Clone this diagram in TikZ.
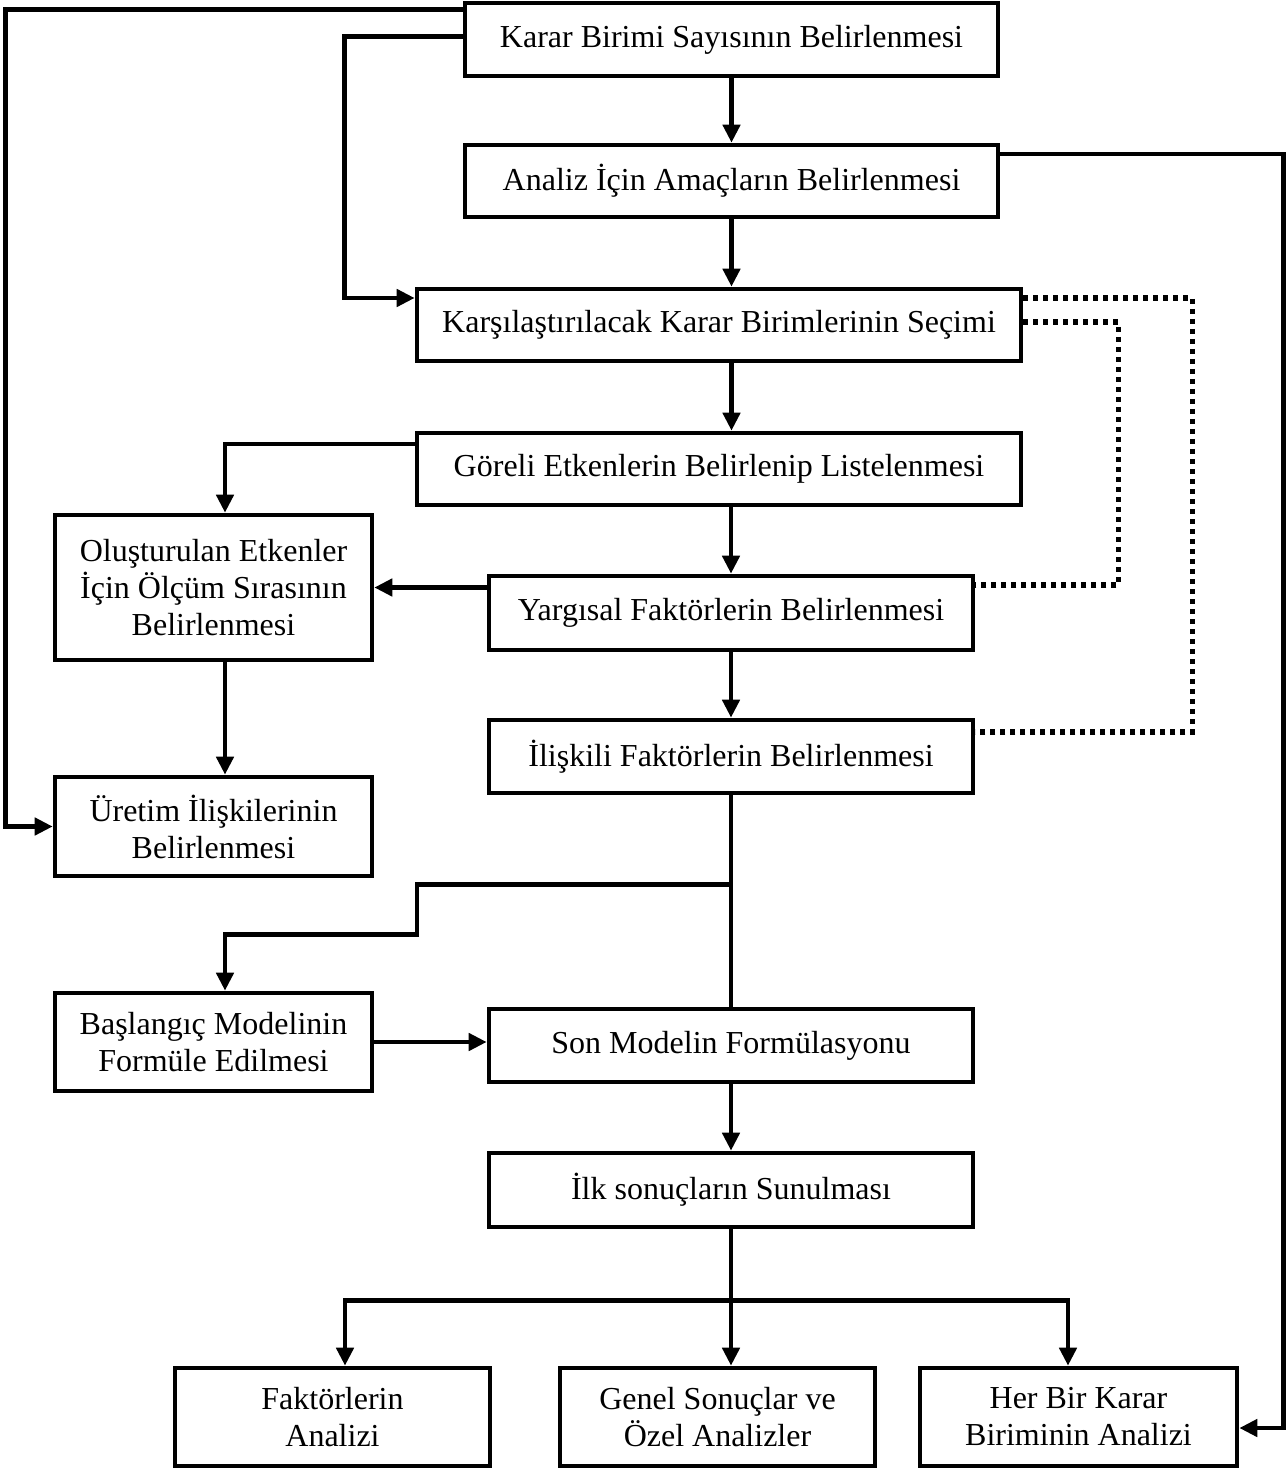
\documentclass[tikz,border=0pt]{standalone}
\usepackage{fontspec}
\setmainfont{Liberation Serif}
\usetikzlibrary{%
		arrows.meta%
	}

\begin{document}
\begin{tikzpicture}[x=0.5pt,y=-0.5pt,
		kutu/.style={draw,line width=2.3pt,align=center,inner sep=0pt,
			font=\fontsize{16}{18.5}\selectfont},
		ok/.style={line width=2.3pt,-{Triangle[length=9pt,width=8.5pt]}},
		cizgi/.style={line width=2.3pt},
		nokta/.style={line width=2.6pt,dash pattern=on 2.5pt off 2.5pt}]
			\useasboundingbox (0,0) rectangle (1285,1470);
			\node[kutu,minimum width=266.5pt,minimum height=36.5pt] (karar) at (731.5,39.5) {Karar Birimi Sayısının Belirlenmesi};
			\node[kutu,minimum width=266.5pt,minimum height=36pt] (amac) at (731.5,181) {Analiz İçin Amaçların Belirlenmesi};
			\node[kutu,minimum width=302pt,minimum height=36pt] (secim) at (719,325) {Karşılaştırılacak Karar Birimlerinin Seçimi};
			\node[kutu,minimum width=302pt,minimum height=36pt] (goreli) at (719,469) {Göreli Etkenlerin Belirlenip Listelenmesi};
			\node[kutu,minimum width=158.5pt,minimum height=72.5pt] (olcum) at (213.5,587.5) {Oluşturulan Etkenler\\İçin Ölçüm Sırasının\\Belirlenmesi};
			\node[kutu,minimum width=242pt,minimum height=37pt] (yargi) at (731,613) {Yargısal Faktörlerin Belirlenmesi};
			\node[kutu,minimum width=242pt,minimum height=36.5pt] (iliskili) at (731,756.5) {İlişkili Faktörlerin Belirlenmesi};
			\node[kutu,minimum width=158.5pt,minimum height=49.5pt] (uretim) at (213.5,826.5) {Üretim İlişkilerinin\\Belirlenmesi};
			\node[kutu,minimum width=158.5pt,minimum height=49pt] (baslangic) at (213.5,1042) {Başlangıç Modelinin\\Formüle Edilmesi};
			\node[kutu,minimum width=242pt,minimum height=36.5pt] (son) at (731,1045.5) {Son Modelin Formülasyonu};
			\node[kutu,minimum width=242pt,minimum height=37pt] (ilk) at (731,1190) {İlk sonuçların Sunulması};
			\node[kutu,minimum width=157.5pt,minimum height=49pt] (faktor) at (332.5,1417) {Faktörlerin\\Analizi};
			\node[kutu,minimum width=157.5pt,minimum height=49pt] (genel) at (717.5,1417) {Genel Sonuçlar ve\\Özel Analizler};
			\node[kutu,minimum width=158.5pt,minimum height=49pt] (her) at (1078.5,1417) {Her Bir Karar\\Biriminin Analizi};
			
			% ana akis
			\draw[ok] (karar.south -| amac.north) -- (amac.north);
			\draw[ok] (amac.south) -- (amac.south |- secim.north);
			\draw[ok] (amac.south |- secim.south) -- (amac.south |- goreli.north);
			\draw[ok] (goreli.south -| yargi.north) -- (yargi.north);
			\draw[ok] (yargi.south) -- (iliskili.north);
			\draw[ok] (son.south) -- (ilk.north);
			
			% sol taraf
			\draw[ok] ([yshift=-4.5pt]karar.north west) -- ++(-457,0) |- (uretim.west);
			\draw[ok] ([yshift=1.5pt]karar.west) -- ++(-118,0) |- ([yshift=13.5pt]secim.west);
			\draw[ok] ([yshift=12.5pt]goreli.west) -| ([xshift=5.75pt]olcum.north);
			\draw[ok] (yargi.west |- olcum.east) -- (olcum.east);
			\draw[ok] ([xshift=5.75pt]olcum.south) -- ([xshift=5.75pt]uretim.north);
			
			% sag taraf
			\draw[ok] ([yshift=13.5pt]amac.east) -- ++(283,0) |- ([yshift=-5.5pt]her.east);
			\draw[nokta] ([yshift=13.5pt]secim.east) -- ++(169,0) |- ([yshift=12.25pt]iliskili.east);
			\draw[nokta] ([yshift=1.5pt]secim.east) -- ++(95,0) |- ([yshift=14pt]yargi.east);
			
			% model
			\coordinate (kol) at ([yshift=-44.5pt]iliskili.south);
			\draw[cizgi] (iliskili.south) -- (son.north);
			\draw[ok] (kol) -- ++(-314,0) -- ++(0,50) -| ([xshift=5.75pt]baslangic.north);
			\draw[ok] (baslangic.east) -- (baslangic.east -| son.west);
			
			% sonuclar
			\coordinate (dal) at ([yshift=-35.5pt]ilk.south);
			\draw[cizgi] (ilk.south) -- (dal);
			\draw[ok] (dal) -- (dal |- genel.north);
			\draw[ok] (dal) -| ([xshift=6.25pt]faktor.north);
			\draw[ok] (dal) -| ([xshift=-5.25pt]her.north);
			
		\end{tikzpicture}
\end{document}
